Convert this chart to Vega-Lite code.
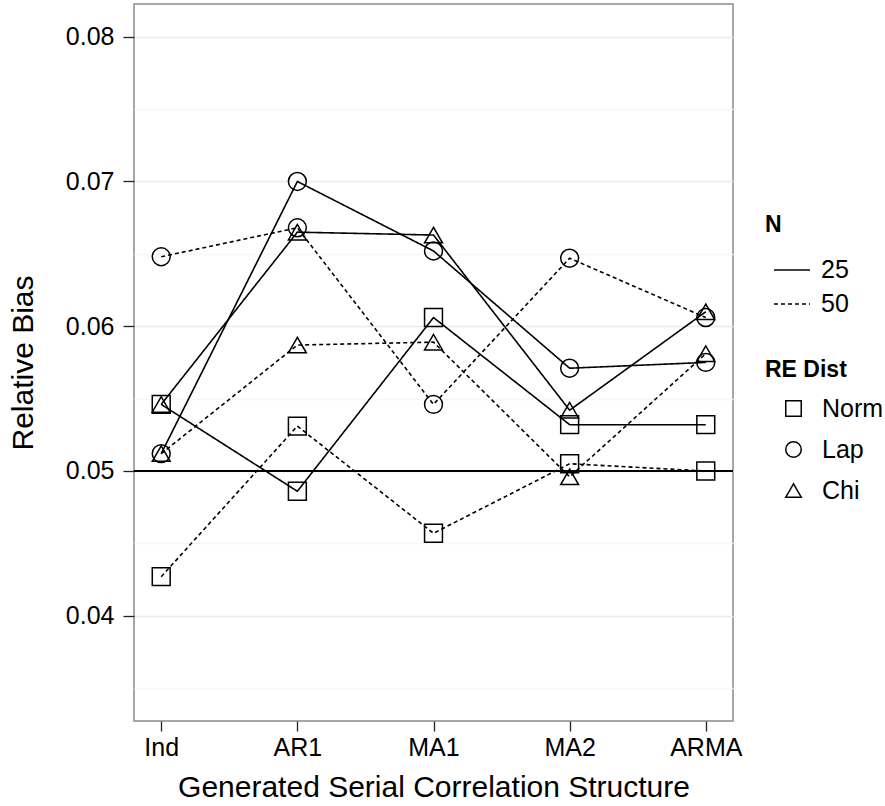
{
  "$schema": "https://vega.github.io/schema/vega-lite/v6.json",
  "width": 599,
  "height": 717,
  "padding": {"left": 8, "top": 4, "right": 0, "bottom": 0},
  "background": "white",
  "config": {
    "font": "Liberation Sans",
    "view": {"stroke": "#8c8c8c", "strokeWidth": 1.5},
    "axis": {"labelColor": "black", "titleColor": "black", "titleFontWeight": "normal", "domain": false, "tickColor": "#222", "tickWidth": 1.3}
  },
  "data": {"values": [
    {"structure": "Ind", "N": "25", "dist": "Norm", "bias": 0.0546},
    {"structure": "AR1", "N": "25", "dist": "Norm", "bias": 0.0486},
    {"structure": "MA1", "N": "25", "dist": "Norm", "bias": 0.0606},
    {"structure": "MA2", "N": "25", "dist": "Norm", "bias": 0.0532},
    {"structure": "ARMA", "N": "25", "dist": "Norm", "bias": 0.0532},
    {"structure": "Ind", "N": "50", "dist": "Norm", "bias": 0.0427},
    {"structure": "AR1", "N": "50", "dist": "Norm", "bias": 0.0531},
    {"structure": "MA1", "N": "50", "dist": "Norm", "bias": 0.0457},
    {"structure": "MA2", "N": "50", "dist": "Norm", "bias": 0.0505},
    {"structure": "ARMA", "N": "50", "dist": "Norm", "bias": 0.0500},
    {"structure": "Ind", "N": "25", "dist": "Lap", "bias": 0.0512},
    {"structure": "AR1", "N": "25", "dist": "Lap", "bias": 0.0700},
    {"structure": "MA1", "N": "25", "dist": "Lap", "bias": 0.0652},
    {"structure": "MA2", "N": "25", "dist": "Lap", "bias": 0.0571},
    {"structure": "ARMA", "N": "25", "dist": "Lap", "bias": 0.0575},
    {"structure": "Ind", "N": "50", "dist": "Lap", "bias": 0.0648},
    {"structure": "AR1", "N": "50", "dist": "Lap", "bias": 0.0668},
    {"structure": "MA1", "N": "50", "dist": "Lap", "bias": 0.0546},
    {"structure": "MA2", "N": "50", "dist": "Lap", "bias": 0.0647},
    {"structure": "ARMA", "N": "50", "dist": "Lap", "bias": 0.0606},
    {"structure": "Ind", "N": "25", "dist": "Chi", "bias": 0.0546},
    {"structure": "AR1", "N": "25", "dist": "Chi", "bias": 0.0665},
    {"structure": "MA1", "N": "25", "dist": "Chi", "bias": 0.0663},
    {"structure": "MA2", "N": "25", "dist": "Chi", "bias": 0.0542},
    {"structure": "ARMA", "N": "25", "dist": "Chi", "bias": 0.0610},
    {"structure": "Ind", "N": "50", "dist": "Chi", "bias": 0.0512},
    {"structure": "AR1", "N": "50", "dist": "Chi", "bias": 0.0587},
    {"structure": "MA1", "N": "50", "dist": "Chi", "bias": 0.0589},
    {"structure": "MA2", "N": "50", "dist": "Chi", "bias": 0.0496},
    {"structure": "ARMA", "N": "50", "dist": "Chi", "bias": 0.0581}
  ]},
  "encoding": {
    "x": {
      "field": "structure", "type": "nominal",
      "sort": ["Ind", "AR1", "MA1", "MA2", "ARMA"],
      "scale": {"type": "point", "padding": 0.2},
      "axis": {"title": "Generated Serial Correlation Structure", "labelAngle": 0, "labelFontSize": 25, "titleFontSize": 30, "tickSize": 10, "labelPadding": 4, "titlePadding": 12, "gridColor": "#ebebeb", "gridWidth": 1.3}
    },
    "y": {
      "field": "bias", "type": "quantitative",
      "scale": {"domain": [0.03273, 0.08226], "nice": false, "zero": false},
      "axis": {
        "title": "Relative Bias", "titleFontSize": 30, "labelFontSize": 25, "tickSize": 11, "labelPadding": 9, "titlePadding": 27,
        "values": [0.035, 0.04, 0.045, 0.05, 0.055, 0.06, 0.065, 0.07, 0.075, 0.08],
        "labelExpr": "round(datum.value*1000) % 10 == 0 ? format(datum.value, '.2f') : ''",
        "tickOpacity": {"condition": {"test": "round(datum.value*1000) % 10 == 0", "value": 1}, "value": 0},
        "gridColor": {"condition": {"test": "round(datum.value*1000) % 10 == 0", "value": "#ebebeb"}, "value": "#f7f7f7"},
        "gridWidth": 1.3
      }
    }
  },
  "layer": [
    {
      "mark": {"type": "rule", "color": "black", "strokeWidth": 1.6},
      "encoding": {"y": {"datum": 0.05}, "x": null}
    },
    {
      "mark": {"type": "line", "color": "black", "strokeWidth": 1.6},
      "encoding": {
        "detail": {"field": "dist", "type": "nominal"},
        "strokeDash": {
          "field": "N", "type": "nominal",
          "scale": {"domain": ["25", "50"], "range": [[1, 0], [4, 3]]},
          "legend": {"title": "N", "orient": "none", "legendX": 631, "legendY": 210, "titleFontSize": 23, "labelFontSize": 25, "symbolSize": 1296, "symbolStrokeWidth": 1.5, "symbolStrokeColor": "black", "symbolOffset": 8, "rowPadding": 2, "labelOffset": 10, "titlePadding": 14}
        }
      }
    },
    {
      "mark": {"type": "point", "filled": false, "color": "black", "strokeWidth": 1.5, "opacity": 1, "size": 320},
      "encoding": {
        "shape": {
          "field": "dist", "type": "nominal",
          "scale": {"domain": ["Norm", "Lap", "Chi"], "range": ["square", "circle", "triangle-up"]},
          "legend": {"title": "RE Dist", "orient": "none", "legendX": 631, "legendY": 355, "titleFontSize": 23, "labelFontSize": 25, "symbolSize": 240, "symbolStrokeWidth": 1.5, "symbolStrokeColor": "black", "symbolFillColor": "transparent", "symbolOffset": 16, "rowPadding": 15, "labelOffset": 16, "titlePadding": 14}
        }
      }
    }
  ]
}
